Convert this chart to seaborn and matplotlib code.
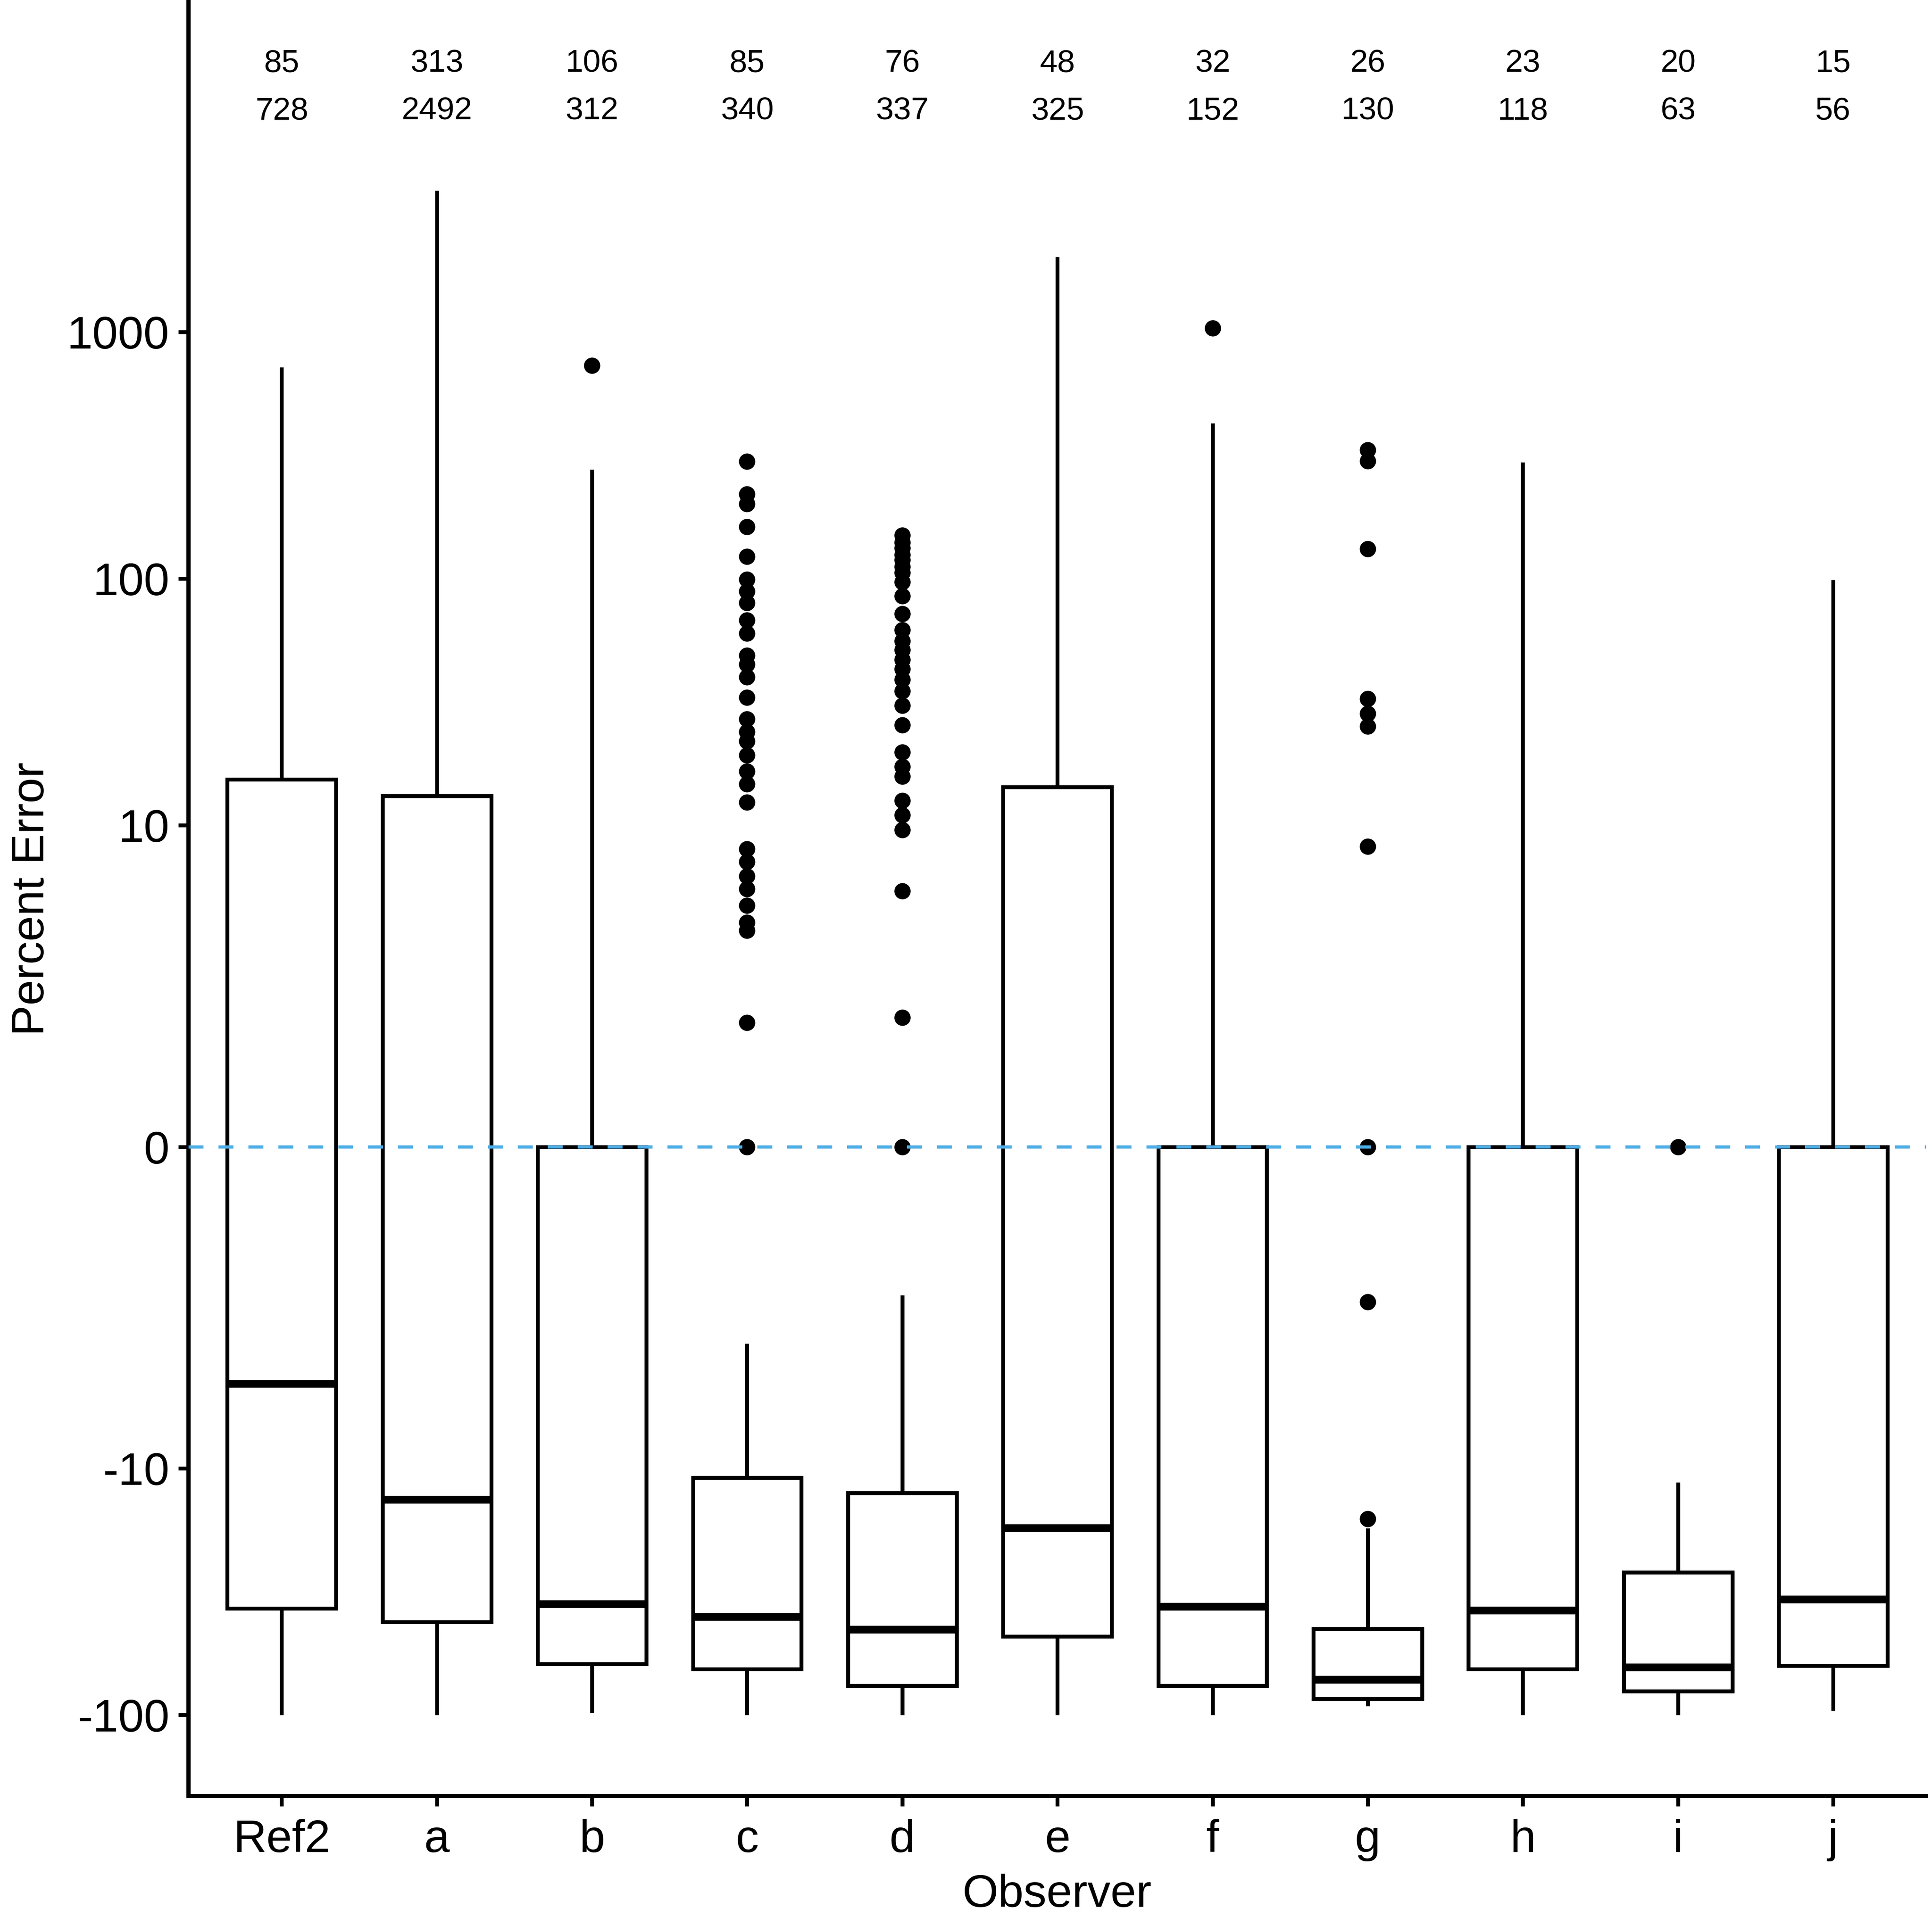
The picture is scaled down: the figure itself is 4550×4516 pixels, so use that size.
import numpy as np
import pandas as pd
import matplotlib
matplotlib.use("Agg")
import matplotlib.pyplot as plt
import matplotlib.transforms as mtransforms
import seaborn as sns

# ---------------- DATA ----------------
observers = ["Ref2", "a", "b", "c", "d", "e", "f", "g", "h", "i", "j"]
n_top = [85, 313, 106, 85, 76, 48, 32, 26, 23, 20, 15]
n_bottom = [728, 2492, 312, 340, 337, 325, 152, 130, 118, 63, 56]

# five-number summaries, percent error
whisker_low = [-100, -100, -98, -100, -100, -100, -100, -92, -100, -100, -96]
q1 = [-37, -42, -62, -65, -76, -48, -76, -86, -65, -80, -63]
median = [-4.5, -13.4, -35.5, -40, -45, -17.5, -36.4, -72, -37.7, -64, -34]
q3 = [15.4, 13.2, 0, -10.9, -12.6, 14.3, 0, -44.7, 0, -26.4, 0]
whisker_high = [718, 3730, 277, -3.05, -1.87, 2015, 427, -17.5, 296, -11.4, 99]

outliers_b = [730]
outliers_c = [298, 220, 201, 162, 123, 99.5, 89, 80, 68, 60, 49, 45, 40, 33,
              27, 24, 22, 19.3, 16.6, 14.7, 12.4, 8.0, 7.1, 6.2, 5.5, 4.7,
              4.0, 3.7, 1.44, 0]
outliers_d = [150, 140, 133, 125, 119, 112, 106, 97, 85, 72, 62, 56, 51.5,
              47, 43, 39, 35, 30.6, 25.5, 19.8, 17.3, 15.8, 12.6, 11.0, 9.6,
              5.4, 1.52, 0]
outliers_f = [1036]
outliers_g = [332, 300, 132, 32.6, 28.4, 25.2, 8.2, 0, -2.0, -16]
outliers_i = [0]
outliers = {"b": outliers_b, "c": outliers_c, "d": outliers_d,
            "f": outliers_f, "g": outliers_g, "i": outliers_i}

REPEAT = 100  # copies per quartile so that the quartiles land on the read values

# ---------------- BUILD LONG TABLE ----------------
rows = []
for k, obs in enumerate(observers):
    vals = ([whisker_low[k]] + [q1[k]] * REPEAT + [median[k]] * REPEAT
            + [q3[k]] * REPEAT + [whisker_high[k]] + outliers.get(obs, []))
    for v in vals:
        rows.append((obs, v))
df = pd.DataFrame(rows, columns=["Observer", "PercentError"])
# pseudo-log axis: asinh transform (stats computed on the transformed scale)
df["t"] = np.arcsinh(df["PercentError"])

# ---------------- PLOT ----------------
sns.set_style("ticks")
plt.rcParams["font.family"] = ["Liberation Sans", "DejaVu Sans"]
plt.rcParams["text.color"] = "black"
plt.rcParams["axes.labelcolor"] = "black"

fig = plt.figure(figsize=(4550 / 600, 4516 / 600), dpi=600)
ax = fig.add_axes([0.0976, 0.063, 0.8994, 0.936])

sns.boxplot(
    data=df, x="Observer", y="t", order=observers, ax=ax,
    width=0.7, color="white", linecolor="black", linewidth=1.1,
    fliersize=4.3, capwidths=0,
    medianprops={"linewidth": 2.2},
    flierprops={"marker": "o", "markerfacecolor": "black",
                "markeredgecolor": "black", "markeredgewidth": 0.3},
)

ax.axhline(np.arcsinh(0), color="#4FADE6", lw=0.9, ls=(0, (4.7, 4.7)), zorder=5)

ytick_vals = [-100, -10, 0, 10, 100, 1000]
ax.set_yticks(np.arcsinh(ytick_vals))
ax.set_yticklabels([str(v) for v in ytick_vals])
ax.set_xlim(-0.6, 10.6)
ax.set_ylim(-6.055, 10.677)

# counts along the top
trans = mtransforms.blended_transform_factory(ax.transData, ax.transAxes)
for k in range(len(observers)):
    ax.text(k, 0.9655, str(n_top[k]), transform=trans, ha="center",
            va="center", fontsize=9, color="black")
    ax.text(k, 0.939, str(n_bottom[k]), transform=trans, ha="center",
            va="center", fontsize=9, color="black")

ax.set_xlabel("Observer", fontsize=13, labelpad=3.5)
ax.set_ylabel("Percent Error", fontsize=13, labelpad=4)
ax.tick_params(axis="both", labelsize=13, length=2.9, width=1.1,
               colors="black", pad=2.5)
ax.tick_params(axis="x", pad=3.5)
for side in ["top", "right"]:
    ax.spines[side].set_visible(False)
for side in ["left", "bottom"]:
    ax.spines[side].set_linewidth(1.2)
    ax.spines[side].set_color("black")

fig.savefig("out.png", dpi=600, facecolor="white")
